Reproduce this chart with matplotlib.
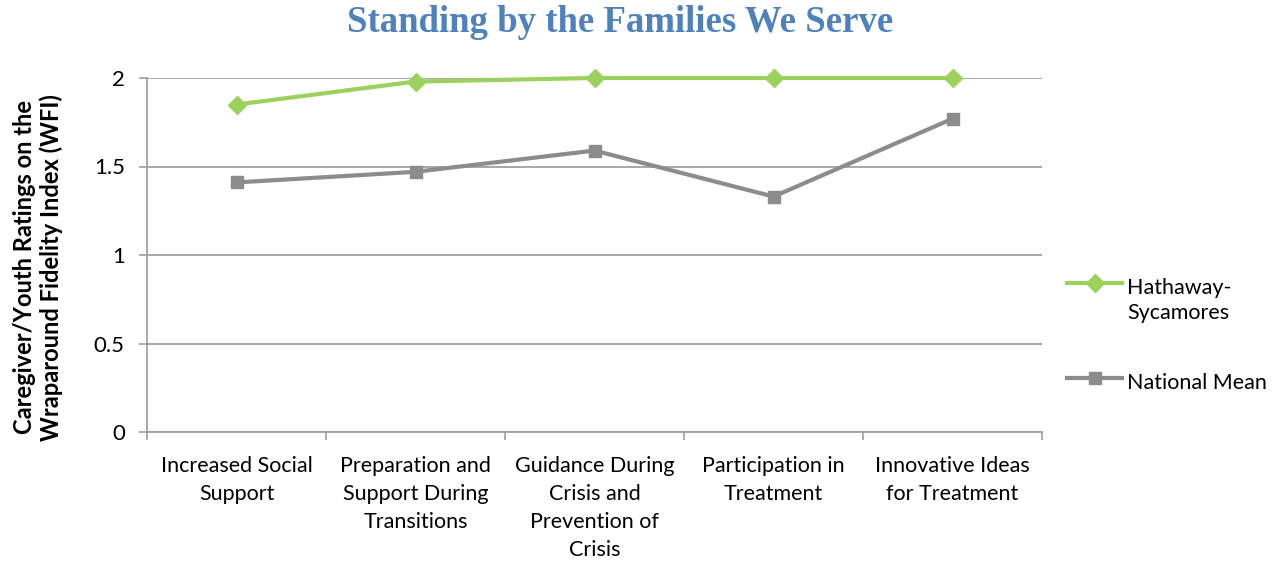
import matplotlib
matplotlib.use("Agg")
import matplotlib.pyplot as plt
from matplotlib.lines import Line2D

categories = ["Increased Social\nSupport", "Preparation and\nSupport During\nTransitions",
              "Guidance During\nCrisis and\nPrevention of\nCrisis", "Participation in\nTreatment",
              "Innovative Ideas\nfor Treatment"]
hathaway = [1.85, 1.98, 2.0, 2.0, 2.0]
national = [1.41, 1.47, 1.59, 1.33, 1.77]
yticks = [0, 0.5, 1, 1.5, 2]
ytick_labels = ["0", "0.5", "1", "1.5", "2"]
series_names = ["Hathaway-\nSycamores", "National Mean"]

plt.rcParams['font.family'] = ['Lato', 'DejaVu Sans']

fig = plt.figure(figsize=(12.83, 5.61), dpi=100)
ax = fig.add_axes([147/1283, 1-432/561, (1042-147)/1283, (432-78)/561])

green = "#9BD15C"
gray = "#8C8C8C"
x = list(range(len(categories)))
ax.plot(x, hathaway, color=green, lw=3, marker="D", ms=9, zorder=3, clip_on=False)
ax.plot(x, national, color=gray, lw=3, marker="s", ms=8, zorder=3, clip_on=False)

ax.set_xlim(-0.5, len(categories)-0.5)
ax.set_ylim(0, 2)
ax.set_yticks(yticks)
ax.set_yticklabels(ytick_labels, fontsize=16, color="#000000")
ax.set_xticks(x)
ax.set_xticklabels(categories, fontsize=15.5, linespacing=1.5, va="top")
ax.tick_params(axis="x", length=0, pad=17)
ax.set_xticks([i - 0.5 for i in range(len(categories)+1)], minor=True)
ax.tick_params(axis="x", which="minor", length=6, color="#A0A0A0", width=1.2, direction="out")
ax.tick_params(axis="y", length=6, color="#A0A0A0", width=1.2, pad=10)
ax.grid(axis="y", color="#A0A0A0", lw=1.3)
ax.set_axisbelow(True)
for s in ["top", "right"]:
    ax.spines[s].set_visible(False)
for s in ["left", "bottom"]:
    ax.spines[s].set_color("#A0A0A0")
    ax.spines[s].set_linewidth(1.3)

ax.set_ylabel("Caregiver/Youth Ratings on the\nWraparound Fidelity Index (WFI)",
              fontsize=17, fontweight="bold", linespacing=1.15)
ax.yaxis.set_label_coords(-0.094, 0.465)

fig.text(620/1283, 1-23/561, "Standing by the Families We Serve", ha="center", va="center",
         fontsize=26.5, fontweight="bold", color="#4F81BD", family="Liberation Serif")

# legend drawn manually
leg_items = [(series_names[0], green, "D", 9, 283), (series_names[1], gray, "s", 8, 378)]
for name, col, mk, ms, ypx in leg_items:
    yf = 1 - ypx/561
    fig.add_artist(Line2D([1067/1283, 1122/1283], [yf, yf], color=col, lw=3, transform=fig.transFigure))
    fig.add_artist(Line2D([1094.5/1283], [yf], color=col, marker=mk, ms=ms, transform=fig.transFigure))
    fig.text(1127/1283, 1 - (ypx - 5)/561, name, ha="left", va="top", fontsize=15.5,
             linespacing=1.3)

fig.savefig("out.png", dpi=100)
